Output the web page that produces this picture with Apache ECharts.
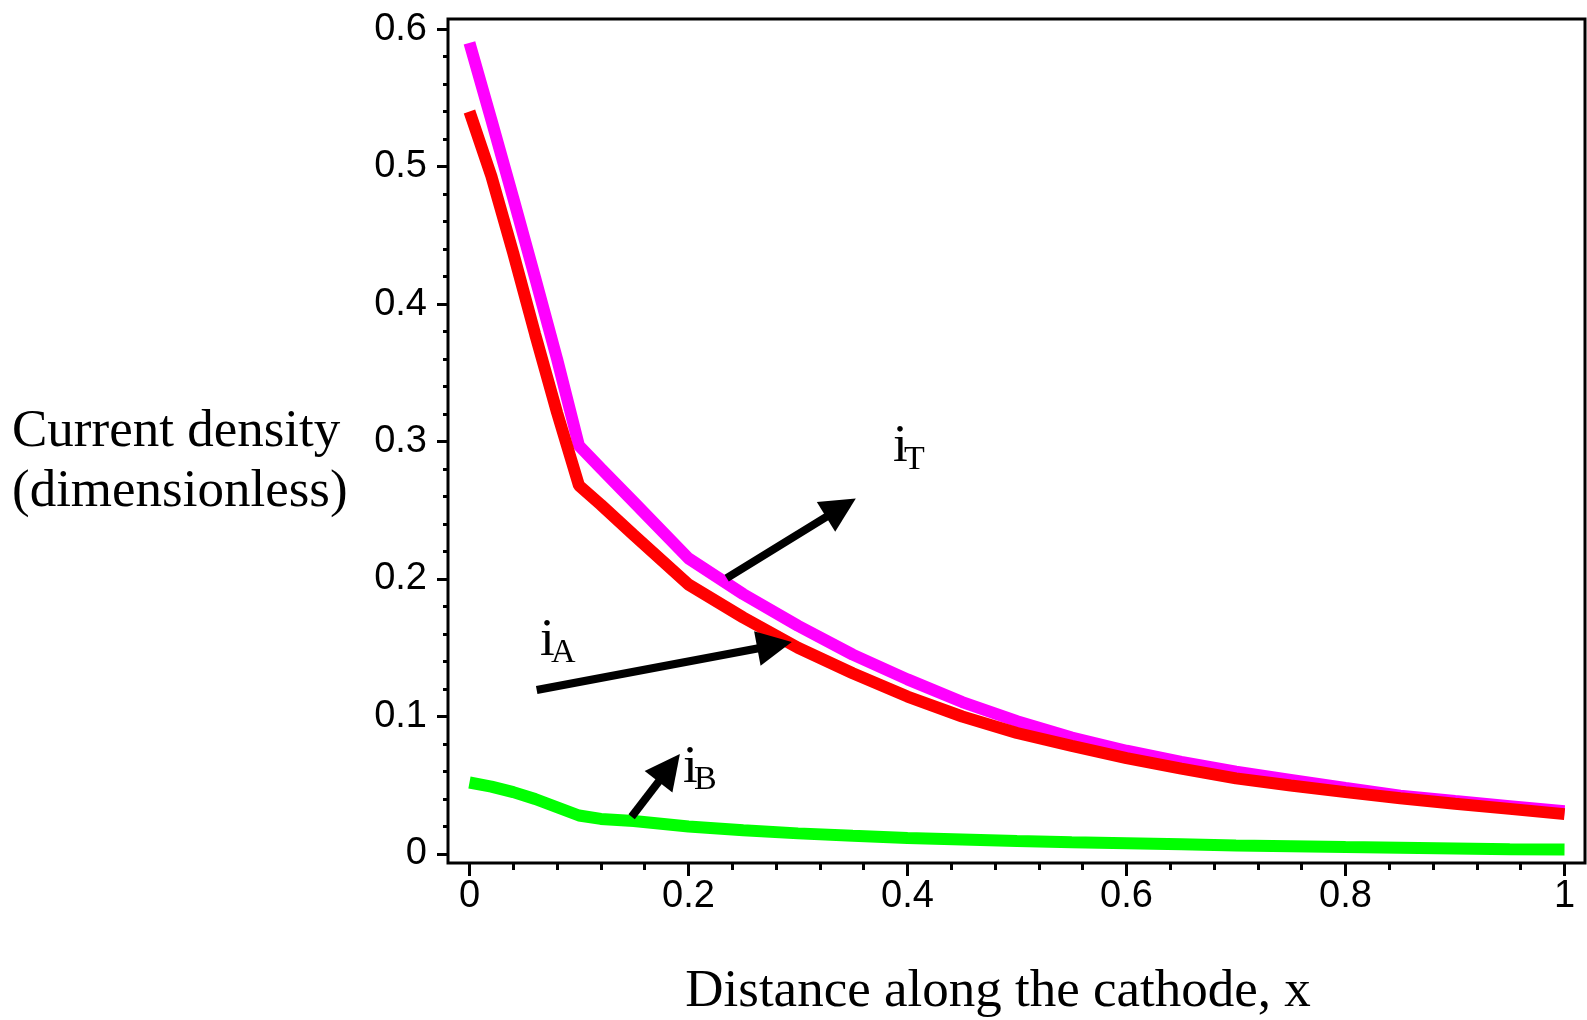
<!DOCTYPE html>
<html><head><meta charset="utf-8">
<script src="https://cdn.jsdelivr.net/npm/echarts@6/dist/echarts.min.js"></script>
<style>html,body{margin:0;padding:0;background:#fff}#c{width:1587px;height:1020px}</style>
</head><body><div id="c"></div>
<script>
// ---- data ----
const xPos = [0, 0.02, 0.04, 0.06, 0.08, 0.1, 0.12, 0.15, 0.2, 0.25, 0.3, 0.35, 0.4, 0.45, 0.5, 0.55, 0.6, 0.65, 0.7, 0.75, 0.8, 0.85, 0.9, 0.95, 1.0];
const iT = [0.590, 0.534, 0.477, 0.419, 0.360, 0.297, 0.2805, 0.256, 0.215, 0.189, 0.166, 0.145, 0.127, 0.1105, 0.0966, 0.0847, 0.0751, 0.0670, 0.0598, 0.0539, 0.0480, 0.0424, 0.0385, 0.0348, 0.0311];
const iA = [0.540, 0.493, 0.437, 0.378, 0.321, 0.268, 0.254, 0.232, 0.196, 0.172, 0.150, 0.1315, 0.1145, 0.100, 0.088, 0.0787, 0.0698, 0.0621, 0.0550, 0.0498, 0.0450, 0.0405, 0.0366, 0.0328, 0.0290];
const iB = [0.052, 0.049, 0.045, 0.040, 0.034, 0.028, 0.0255, 0.0240, 0.0200, 0.0172, 0.0150, 0.0132, 0.0117, 0.0106, 0.0095, 0.0086, 0.0078, 0.0070, 0.0062, 0.0056, 0.0050, 0.0045, 0.0040, 0.0035, 0.0032];

const xMajorTicks = [0, 0.2, 0.4, 0.6, 0.8, 1];
const xMinorTicks = [0.04, 0.08, 0.12, 0.16, 0.24, 0.28, 0.32, 0.36, 0.44, 0.48, 0.52, 0.56, 0.64, 0.68, 0.72, 0.76, 0.84, 0.88, 0.92, 0.96];
const yMajorTicks = [0, 0.1, 0.2, 0.3, 0.4, 0.5, 0.6];
const yMinorTicks = [0.02, 0.04, 0.06, 0.08, 0.12, 0.14, 0.16, 0.18, 0.22, 0.24, 0.26, 0.28, 0.32, 0.34, 0.36, 0.38, 0.42, 0.44, 0.46, 0.48, 0.52, 0.54, 0.56, 0.58];

const yTitleLines = ['Current density', '(dimensionless)'];
const xTitle = 'Distance along the cathode, x';

// annotation arrows: tail and arrow-head centre, in data units
const arrowFrom = [[0.2349, 0.2006], [0.0614, 0.1193], [0.1481, 0.0271]];
const arrowHead = [[0.3392, 0.2518], [0.2786, 0.1518], [0.1824, 0.0626]];
// annotation labels: main letter, subscript, anchor (left / baseline) in data units
const annMain = ['i', 'i', 'i'];
const annSub = ['T', 'A', 'B'];
const annPos = [[0.3868, 0.2854], [0.0644, 0.1448], [0.195, 0.0526]];

// ---- chart ----
const X_MIN = -0.0196, X_MAX = 1.0187, Y_MIN = -0.00655, Y_MAX = 0.6073;
const fmt = v => String(+(+v).toFixed(2));
const SERIF = '"Liberation Serif", "Times New Roman", serif';
const SANS = '"Liberation Sans", Arial, sans-serif';

function pairs(ys) { return xPos.map((x, i) => [x, ys[i]]); }

const tickStyle = { color: '#000', width: 3 };
const noLine = { show: false, onZero: false };
const option = {
  animation: false,
  backgroundColor: '#fff',
  grid: { left: 448, top: 19, right: 2, bottom: 157, show: true, borderColor: '#000', borderWidth: 3, backgroundColor: 'transparent' },
  xAxis: [
    { type: 'value', min: X_MIN, max: X_MAX, position: 'bottom', axisLine: noLine, splitLine: { show: false },
      axisTick: { show: true, inside: false, customValues: xMajorTicks, length: 13, lineStyle: tickStyle },
      axisLabel: { show: true, customValues: xMajorTicks, margin: 15, formatter: fmt, fontSize: 38, fontFamily: SANS, color: '#000' } },
    { type: 'value', min: X_MIN, max: X_MAX, position: 'bottom', axisLine: noLine, splitLine: { show: false },
      axisTick: { show: true, inside: false, customValues: xMinorTicks, length: 7, lineStyle: tickStyle },
      axisLabel: { show: false } }
  ],
  yAxis: [
    { type: 'value', min: Y_MIN, max: Y_MAX, position: 'left', axisLine: noLine, splitLine: { show: false },
      axisTick: { show: true, inside: false, customValues: yMajorTicks, length: 11, lineStyle: tickStyle },
      axisLabel: { show: true, customValues: yMajorTicks, margin: 21, formatter: fmt, fontSize: 38, fontFamily: SANS, color: '#000' } },
    { type: 'value', min: Y_MIN, max: Y_MAX, position: 'left', axisLine: noLine, splitLine: { show: false },
      axisTick: { show: true, inside: false, customValues: yMinorTicks, length: 5, lineStyle: tickStyle },
      axisLabel: { show: false } }
  ],
  series: [
    { name: 'iT', type: 'line', data: pairs(iT), showSymbol: false, symbol: 'none', silent: true,
      lineStyle: { color: '#ff00ff', width: 12 }, z: 2 },
    { name: 'iA', type: 'line', data: pairs(iA), showSymbol: false, symbol: 'none', silent: true,
      lineStyle: { color: '#ff0000', width: 12 }, z: 3 },
    { name: 'iB', type: 'line', data: pairs(iB), showSymbol: false, symbol: 'none', silent: true,
      lineStyle: { color: '#00ff00', width: 12 }, z: 3 },
    { name: 'arrows', type: 'line', data: [], silent: true, z: 5,
      markLine: { silent: true, symbol: ['none', 'triangle'], symbolSize: [35, 35], animation: false,
        label: { show: false }, lineStyle: { color: '#000', width: 8, type: 'solid' },
        itemStyle: { color: '#000' },
        emphasis: { disabled: true },
        data: arrowFrom.map((f, i) => [{ coord: f }, { coord: arrowHead[i] }]) } }
  ]
};

const chart = echarts.init(document.getElementById('c'));
chart.setOption(option);

const g = [];
const MAIN = 53, SUB = 34, K = 0.265;
annPos.forEach((p, i) => {
  const px = chart.convertToPixel({ gridIndex: 0 }, p);
  g.push({ type: 'text', x: px[0], y: px[1] - K * MAIN, silent: true,
    style: { text: annMain[i], fontSize: MAIN, fontFamily: SERIF, fill: '#000', align: 'left', verticalAlign: 'middle' } });
  g.push({ type: 'text', x: px[0] + 11, y: px[1] + 7 - K * SUB, silent: true,
    style: { text: annSub[i], fontSize: SUB, fontFamily: SERIF, fill: '#000', align: 'left', verticalAlign: 'middle' } });
});
yTitleLines.forEach((t, i) => {
  g.push({ type: 'text', x: 12, y: 446 + i * 60 - K * 53, silent: true,
    style: { text: t, fontSize: 53, fontFamily: SERIF, fill: '#000', align: 'left', verticalAlign: 'middle' } });
});
g.push({ type: 'text', x: 998, y: 1005.7 - K * 53, silent: true,
  style: { text: xTitle, fontSize: 53, fontFamily: SERIF, fill: '#000', align: 'center', verticalAlign: 'middle' } });
chart.setOption({ graphic: g });
</script>
</body></html>
